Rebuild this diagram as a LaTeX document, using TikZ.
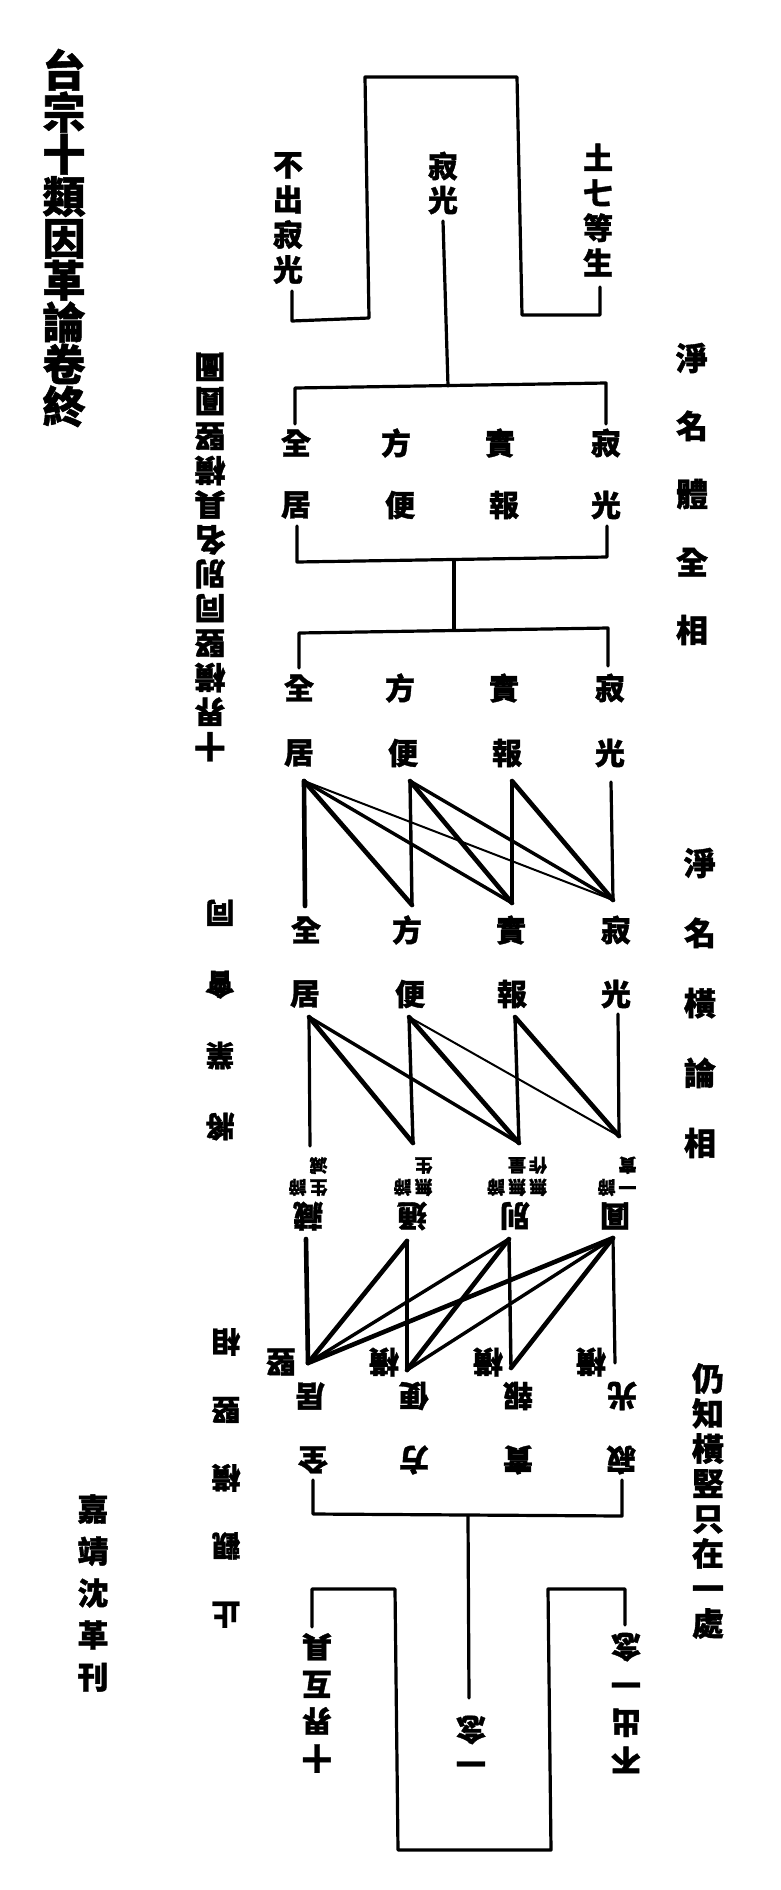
\documentclass[tikz,border=0pt]{standalone}
\usepackage{fontspec}
\newfontfamily\cjk{Noto Sans CJK TC}[BoldFeatures={FakeBold=1.2}]
\begin{document}
\begin{tikzpicture}[x=1pt,y=-1pt,
  every node/.style={inner sep=0pt,outer sep=0pt},
  ch/.style={font=\cjk\bfseries\fontsize{30}{30}\selectfont},
  vt/.style 2 args={font=\cjk\bfseries\fontsize{#1}{#2}\selectfont,align=center},
  up/.style={rotate=180},
  nt/.style={font=\cjk\bfseries\fontsize{18}{22}\selectfont},
  ln/.style={line width=3.2pt,line cap=round,line join=round},
  lk/.style={line width=4.6pt,line cap=round},
  lm/.style={line width=3.4pt,line cap=round},
  lt/.style={line width=2pt,line cap=round}]
\fill[white] (0,0) rectangle (780,1890);
\useasboundingbox (0,0) rectangle (780,1890);

% ---------- columns of text ----------
\node[vt={43}{42}] (title) at (64,238) {台\\宗\\十\\類\\因\\革\\論\\卷\\終};
\node[vt={31}{34.5},up] (lc1) at (210,557) {十\\界\\橫\\竪\\同\\別\\名\\具\\橫\\竪\\圓\\圖};
\node[vt={29}{71},up] (lc2) at (220,1020) {將\\業\\會\\同};
\node[vt={29}{68},up] (lc3) at (226,1478) {止\\觀\\橫\\竪\\相};
\node[vt={31}{42}] (colo) at (93,1593) {嘉\\靖\\沈\\革\\刊};
\node[vt={32}{68}] (jm1) at (692,494) {淨\\名\\體\\全\\相};
\node[vt={32}{70}] (jm2) at (700,1003) {淨\\名\\橫\\論\\相};
\node[vt={32}{35}] (rz) at (708,1501) {仍\\知\\橫\\竪\\只\\在\\一\\處};

% ---------- top labels ----------
\node[vt={30}{35}] (bcjg) at (288,218) {不\\出\\寂\\光};
\node[vt={30}{34}] (jg) at (443,183) {寂\\光};
\node[vt={30}{35}] (sq) at (598,210) {土\\七\\等\\生};

% ---------- rows ----------
\node[ch] (r1a) at (296,443) {全}; \node[ch] (r1b) at (396,443) {方};
\node[ch] (r1c) at (500,443) {實}; \node[ch] (r1d) at (606,443) {寂};
\node[ch] (r2a) at (296,505) {居}; \node[ch] (r2b) at (400,505) {便};
\node[ch] (r2c) at (504,505) {報}; \node[ch] (r2d) at (606,505) {光};
\node[ch] (r3a) at (299,688) {全}; \node[ch] (r3b) at (400,688) {方};
\node[ch] (r3c) at (504,688) {實}; \node[ch] (r3d) at (610,688) {寂};
\node[ch] (r4a) at (299,753) {居}; \node[ch] (r4b) at (403,753) {便};
\node[ch] (r4c) at (507,753) {報}; \node[ch] (r4d) at (610,753) {光};
\node[ch] (r5a) at (306,930) {全}; \node[ch] (r5b) at (407,930) {方};
\node[ch] (r5c) at (511,930) {實}; \node[ch] (r5d) at (616,930) {寂};
\node[ch] (r6a) at (305,994) {居}; \node[ch] (r6b) at (410,994) {便};
\node[ch] (r6c) at (512,994) {報}; \node[ch] (r6d) at (616,994) {光};
\node[ch,up] (r7a) at (308,1216) {藏}; \node[ch,up] (r7b) at (412,1216) {通};
\node[ch,up] (r7c) at (515,1216) {別}; \node[ch,up] (r7d) at (615,1216) {圓};
\node[nt,up] (n7a) at (308,1174) {\begin{tabular}{@{}c@{\hspace{3pt}}c@{}}生&諦\\滅&\end{tabular}};
\node[nt,up] (n7b) at (413,1174) {\begin{tabular}{@{}c@{\hspace{3pt}}c@{}}無&諦\\生&\end{tabular}};
\node[nt,up] (n7c) at (517,1174) {\begin{tabular}{@{}c@{\hspace{3pt}}c@{\hspace{3pt}}c@{}}無&無&諦\\作&量&\end{tabular}};
\node[nt,up] (n7d) at (617,1174) {\begin{tabular}{@{}c@{\hspace{3pt}}c@{}}一&諦\\實&\end{tabular}};
\node[ch,up] (m8a) at (281,1362) {竪}; \node[ch,up] (m8b) at (384,1362) {橫};
\node[ch,up] (m8c) at (488,1362) {橫}; \node[ch,up] (m8d) at (591,1362) {橫};
\node[ch,up] (r8a) at (310,1396) {居}; \node[ch,up] (r8b) at (414,1396) {便};
\node[ch,up] (r8c) at (518,1396) {報}; \node[ch,up] (r8d) at (622,1396) {光};
\node[ch,up] (r9a) at (313,1460) {全}; \node[ch,up] (r9b) at (414,1460) {方};
\node[ch,up] (r9c) at (518,1460) {實}; \node[ch,up] (r9d) at (621,1460) {寂};

% ---------- bottom labels ----------
\node[vt={30}{38},up] (b1) at (626,1703) {不\\出\\一\\念};
\node[vt={30}{34},up] (b2) at (471,1741) {一\\念};
\node[vt={30}{37},up] (b3) at (317,1703) {十\\界\\互\\具};

% ---------- coordinates ----------
\coordinate (t1) at (292,291); \coordinate (t2) at (292,321); \coordinate (t3) at (369,318);
\coordinate (t4) at (365,77);  \coordinate (t5) at (517,77);  \coordinate (t6) at (522,315);
\coordinate (t7) at (600,315); \coordinate (t8) at (600,287);
\coordinate (m1) at (443,221); \coordinate (m2) at (448,386);
\coordinate (h1l) at (295,424); \coordinate (h1a) at (295,388); \coordinate (h1b) at (606,383); \coordinate (h1r) at (606,424);
\coordinate (h2l) at (297,526); \coordinate (h2a) at (297,562); \coordinate (h2b) at (607,557); \coordinate (h2r) at (607,526);
\coordinate (m3) at (454,560); \coordinate (m4) at (454,630);
\coordinate (h3l) at (299,668); \coordinate (h3a) at (299,633); \coordinate (h3b) at (608,628); \coordinate (h3r) at (608,666);

\coordinate (g1ta) at (304,781); \coordinate (g1tb) at (410,781); \coordinate (g1tc) at (512,781); \coordinate (g1td) at (611,782);
\coordinate (g1ba) at (305,906); \coordinate (g1bb) at (412,905); \coordinate (g1bc) at (512,903); \coordinate (g1bd) at (613,900);
\coordinate (g2ta) at (309,1017); \coordinate (g2tb) at (409,1017); \coordinate (g2tc) at (515,1017); \coordinate (g2td) at (618,1014);
\coordinate (g2ba) at (310,1146); \coordinate (g2bb) at (413,1143); \coordinate (g2bc) at (519,1143); \coordinate (g2bd) at (619,1136);
\coordinate (g3ta) at (306,1239); \coordinate (g3tb) at (407,1241); \coordinate (g3tc) at (509,1239); \coordinate (g3td) at (613,1238);
\coordinate (g3ba) at (308,1363); \coordinate (g3bb) at (407,1370); \coordinate (g3bc) at (511,1368); \coordinate (g3bd) at (615,1363);

\coordinate (k1) at (313,1480); \coordinate (k2) at (313,1514); \coordinate (k3) at (622,1516); \coordinate (k4) at (622,1480);
\coordinate (k5) at (468,1516); \coordinate (k6) at (469,1698);
\coordinate (q1) at (312,1627); \coordinate (q2) at (312,1589); \coordinate (q3) at (395,1589); \coordinate (q4) at (398,1850);
\coordinate (q5) at (551,1850); \coordinate (q6) at (548,1589); \coordinate (q7) at (625,1589); \coordinate (q8) at (625,1625);

% ---------- connectors ----------
\draw[ln] (t1) -- (t2) -- (t3) -- (t4) -- (t5) -- (t6) -- (t7) -- (t8);
\draw[ln] (m1) -- (m2);
\draw[ln] (h1l) -- (h1a) -- (h1b) -- (h1r);
\draw[ln] (h2l) -- (h2a) -- (h2b) -- (h2r);
\draw[ln] (m3) -- (m4);
\draw[ln] (h3l) -- (h3a) -- (h3b) -- (h3r);

\foreach \s/\t/\w in {a/a/lk,a/b/lk,a/c/lm,a/d/lt,b/b/lm,b/c/lk,b/d/lm,c/c/lm,c/d/lk,d/d/ln}
  \draw[\w] (g1t\s) -- (g1b\t);
\foreach \s/\t/\w in {a/a/ln,a/b/lk,a/c/lm,b/b/lm,b/c/lk,b/d/lt,c/c/lm,c/d/lk,d/d/ln}
  \draw[\w] (g2t\s) -- (g2b\t);
\foreach \s/\t/\w in {a/a/lk,b/a/lk,c/a/lm,d/a/lk,b/b/lk,c/b/lk,d/b/lm,c/c/lm,d/c/lk,d/d/ln}
  \draw[\w] (g3t\s) -- (g3b\t);

\draw[ln] (k1) -- (k2) -- (k3) -- (k4);
\draw[ln] (k5) -- (k6);
\draw[ln] (q1) -- (q2) -- (q3) -- (q4) -- (q5) -- (q6) -- (q7) -- (q8);
\end{tikzpicture}
\end{document}
